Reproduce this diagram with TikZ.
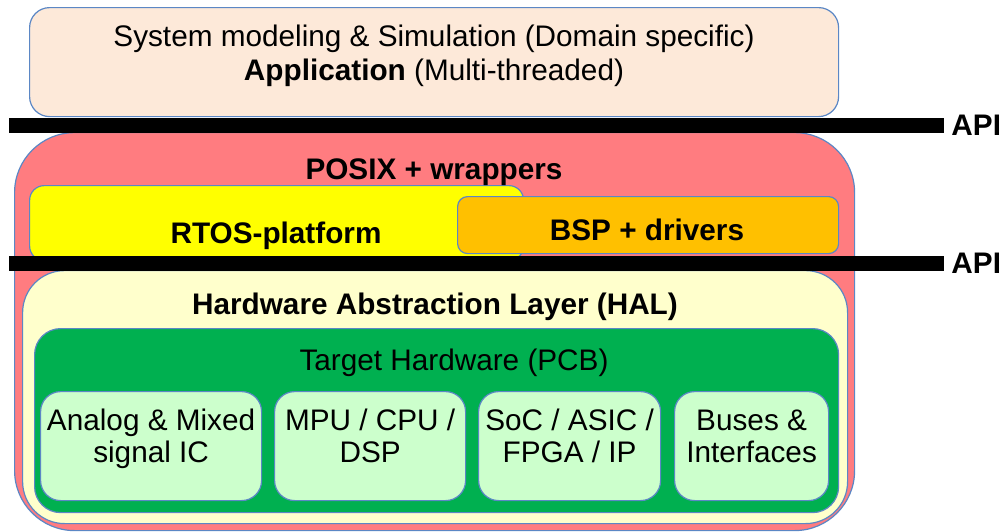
\documentclass[tikz,border=0pt]{standalone}
\usepackage{fontspec}
\setmainfont{Liberation Sans}
\usepackage{xcolor}
\usepackage{tikz}
\usetikzlibrary{positioning}

\definecolor{edgeblue}{HTML}{5B87C5}
\definecolor{appfill}{HTML}{FDE9D9}
\definecolor{posixred}{HTML}{FF7C80}
\definecolor{rtosyellow}{HTML}{FFFF00}
\definecolor{bsporange}{HTML}{FFC000}
\definecolor{halfill}{HTML}{FFFFCC}
\definecolor{pcbgreen}{HTML}{00B050}
\definecolor{partgreen}{HTML}{CCFFCC}

\begin{document}
\begin{tikzpicture}[x=0.75pt,y=-0.75pt,line width=0.9pt,
                    font=\fontsize{22.3pt}{24pt}\selectfont]
  \tikzstyle{layer}=[draw=edgeblue,anchor=north west,inner sep=0pt]
  \tikzstyle{part}=[layer,fill=partgreen,rounded corners=15pt,minimum height=81.75pt]
  \tikzstyle{apibar}=[fill=black,anchor=north west,inner sep=0pt,
                      minimum width=701.25pt,minimum height=11.25pt]
  \tikzstyle{caption}=[anchor=base,inner sep=0pt,align=center]

  \useasboundingbox (0,0) rectangle (1001,532);

  \node[layer,fill=appfill,rounded corners=15pt,minimum width=606.75pt,minimum height=81.75pt] (app) at (29,7) {};
  \node[layer,fill=posixred,rounded corners=45pt,minimum width=630pt,minimum height=298.5pt] (posix) at (14,132) {};
  \node[layer,fill=rtosyellow,rounded corners=11pt,minimum width=370.5pt,minimum height=56.25pt] (rtos) at (29,185) {};
  \node[layer,fill=bsporange,rounded corners=7.5pt,minimum width=285.75pt,minimum height=42.75pt] (bsp) at (457,196) {};
  \node[layer,fill=halfill,rounded corners=31.5pt,minimum width=618.75pt,minimum height=189.75pt] (hal) at (22,270) {};
  \node[layer,fill=pcbgreen,rounded corners=19.5pt,minimum width=603pt,minimum height=138pt] (pcb) at (34,328) {};

  \node[part,minimum width=165.75pt] (analog) at (40,391)  {};
  \node[part,minimum width=143.25pt] (cpu)    at (274,391) {};
  \node[part,minimum width=136.5pt]  (soc)    at (478,391) {};
  \node[part,minimum width=115.5pt]  (buses)  at (674,391) {};

  \node[apibar] (apiTop) at (8,117) {};
  \node[apibar] (apiMid) at (8,255) {};
  \node[right=5pt of apiTop,inner sep=0pt] (apiTopText) {\textbf{API}};
  \node[right=5pt of apiMid,inner sep=0pt] (apiMidText) {\textbf{API}};

  % two-line captions sit on the baseline of their last line
  \node[caption,font=\fontsize{22.3pt}{25.5pt}\selectfont] (appText) at (434,80)
    {System modeling \& Simulation (Domain specific)\\\textbf{Application} (Multi-threaded)};
  \node[caption] (posixText) at (434,179) {\textbf{POSIX + wrappers}};
  \node[caption] (rtosText)  at (276,243) {\textbf{RTOS-platform}};
  \node[caption] (bspText)   at (647,240) {\textbf{BSP + drivers}};
  \node[caption] (halText)   at (435,314) {\textbf{Hardware Abstraction Layer (HAL)}};
  \node[caption] (pcbText)   at (454,370) {Target Hardware (PCB)};

  \node[caption] (analogText) at ([yshift=-53.25pt]analog.north) {Analog \& Mixed\\signal IC};
  \node[caption] (cpuText)    at ([yshift=-53.25pt]cpu.north)    {MPU / CPU /\\DSP};
  \node[caption] (socText)    at ([yshift=-53.25pt]soc.north)    {SoC / ASIC /\\FPGA / IP};
  \node[caption] (busesText)  at ([yshift=-53.25pt]buses.north)  {Buses \&\\Interfaces};
\end{tikzpicture}
\end{document}
